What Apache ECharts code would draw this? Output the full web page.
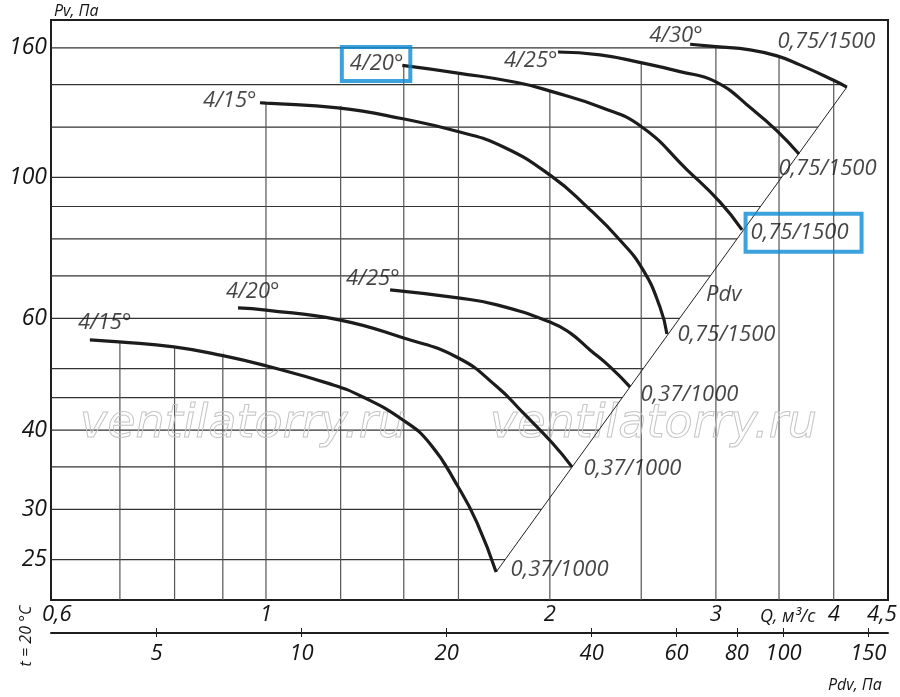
<!DOCTYPE html>
<html>
<head>
<meta charset="utf-8">
<script src="https://cdn.jsdelivr.net/npm/echarts@6/dist/echarts.min.js"></script>
<style>html,body{margin:0;padding:0;background:#fff}#c{width:900px;height:697px}</style>
</head>
<body>
<div id="c"></div>
<script>
// ---- axis ticks / grid values ----
const qLabelTicks = [0.6, 1, 2, 3, 4, 4.5];
const qGridLines = [0.7, 0.8, 0.9, 1, 1.2, 1.4, 1.6, 2, 2.5, 3, 3.5, 4];
const pvLabelTicks = [25, 30, 40, 60, 100, 160];
const pvGridLines = [25, 30, 35, 40, 45, 50, 60, 70, 80, 90, 100, 120, 140, 160];
const pdvTicks = [5, 10, 20, 40, 60, 80, 100, 150];
const qRange = [0.5916, 4.567];
const pvRange = [21.6, 177];
const pdvRange = [3.02, 164.8];

// ---- curves: [Q m3/s, Pv Pa] ----
const up15 = [[0.9855,131.1],[1.0,130.9],[1.192,128.7],[1.397,123.7],[1.598,118.1],[1.784,111.8],[2.011,100.3],[2.190,89.9],[2.373,79.7],[2.511,71.5],[2.617,62.5],[2.662,56.7]];
const up20 = [[1.395,150.1],[1.598,146.0],[1.846,141.1],[2.011,136.5],[2.261,129.1],[2.504,120.1],[2.796,102.8],[3.029,91.5],[3.198,82.7]];
const up25 = [[2.040,157.6],[2.261,156.0],[2.504,151.5],[2.748,146.8],[3.0,141.4],[3.284,127.8],[3.483,118.4],[3.675,108.9]];
const up30 = [[2.817,162.1],[3.0,160.7],[3.261,158.8],[3.483,155.4],[3.684,150.4],[3.994,142.4],[4.131,138.8]];
const low15 = [[0.6505,55.5],[0.6985,55.1],[0.7988,54.1],[0.9003,52.4],[1.0,50.5],[1.169,47.3],[1.267,45.1],[1.397,41.5],[1.492,38.1],[1.598,32.6],[1.674,28.6],[1.754,23.9]];
const low20 = [[0.934,62.3],[1.0,61.8],[1.192,59.7],[1.397,55.9],[1.598,52.0],[1.758,46.8],[1.873,42.6],[2.011,38.2],[2.111,35.0]];
const low25 = [[1.354,66.5],[1.598,64.6],[1.758,63.0],[2.011,59.0],[2.101,56.9],[2.206,53.5],[2.317,50.3],[2.432,46.8]];
const pdvLine = [[1.754,23.9],[4.131,138.8]];

const curves = [up15, up20, up25, up30, low15, low20, low25];
const curveNames = ['4/15°', '4/20°', '4/25°', '4/30°', '4/15°', '4/20°', '4/25°'];
const motorNames = ['0,75/1500', '0,75/1500', '0,75/1500', '0,75/1500', '0,37/1000', '0,37/1000', '0,37/1000'];
const pdvName = 'Pdv';
const yName = 'Pv, Па', xName = 'Q, м³/с', pdvAxisName = 'Pdv, Па', tempNote = 't = 20 °C', watermark = 'ventilatorry.ru';

// ---- layout (label offsets) ----
const startOffsets = [[-3,-2],[8.5,-1.5],[0,9],[13,-9],[42,-17],[42,-16],[10,-11]];
const endOffsets = [[10,1],[3,3],[-21,15],[-70,-45],[14,-2],[11,2],[10,8]];
const boxedStart = [1], boxedEnd = [1];

const L = v => Math.log10(v);
const toLog = pts => pts.map(p => [L(p[0]), L(p[1])]);
const FONT = 'Open Sans';
const txt = {color:'#151515', fontFamily:FONT, fontStyle:'italic'};
const fmtNum = v => String(Math.round(Math.pow(10, v) * 100) / 100).replace('.', ',');
const boxStyle = {borderColor:'#0a8bd6', borderWidth:4, lineHeight:24};

// clip polygons
const hClip = [[qRange[0], pvRange[0]], [qRange[0], pvRange[1]], [up30[0][0], pvRange[1]]]
  .concat(up30, pdvLine.slice().reverse(), [[pdvLine[0][0], pvRange[0]]]);
const envelope = [low15, up15, up20, up25, up30];
const vClip = [[low15[0][0], pvRange[0]]];
envelope.forEach((c, i) => {
  const nxt = envelope[i + 1];
  c.forEach(pt => { if (!nxt || pt[0] < nxt[0][0]) vClip.push(pt); });
});
vClip.push([up30[up30.length - 1][0], pvRange[0]]);

function gridRender(lines, vertical, clip, color) {
  return function (params, api) {
    const children = lines.map(v => {
      const a = vertical ? api.coord([L(v), L(pvRange[0])]) : api.coord([L(qRange[0]), L(v)]);
      const b = vertical ? api.coord([L(v), L(pvRange[1])]) : api.coord([L(qRange[1]), L(v)]);
      return {type:'line', shape:{x1:a[0], y1:a[1], x2:b[0], y2:b[1]}, style:{stroke:color, lineWidth:1.2}};
    });
    const pts = clip.map(p => api.coord([L(p[0]), L(p[1])]));
    return {type:'group', children, clipPath:{type:'polygon', shape:{points:pts}}};
  };
}

const series = [
  {type:'custom', name:'hgrid', renderItem:gridRender(pvGridLines, false, hClip, '#333'), data:[[0, 0]], z:1, silent:true, clip:false},
  {type:'custom', name:'vgrid', renderItem:gridRender(qGridLines, true, vClip, '#555'), data:[[0, 0]], z:1, silent:true, clip:false},
  {type:'line', name:pdvName, data:toLog(pdvLine), symbol:'none', lineStyle:{color:'#222', width:1}, z:3, silent:true}
];
curves.forEach((c, i) => {
  series.push({type:'line', name:curveNames[i] + ' ' + motorNames[i], data:toLog(c), smooth:0.5, symbol:'none',
    lineStyle:{color:'#1c1c1c', width:3.2, cap:'butt'}, z:4, silent:true});
});
const labelData = [];
curves.forEach((c, i) => {
  const s = toLog([c[0]])[0], e = toLog([c[c.length - 1]])[0];
  labelData.push({value:s, label:Object.assign({show:true, position:'left', distance:0, formatter:curveNames[i], offset:startOffsets[i], fontSize:22}, txt,
    boxedStart.includes(i) ? Object.assign({padding:[5,7,5,8]}, boxStyle) : {})});
  labelData.push({value:e, label:Object.assign({show:true, position:'right', distance:0, formatter:motorNames[i], offset:endOffsets[i], fontSize:22}, txt,
    boxedEnd.includes(i) ? Object.assign({padding:[7,13,7,5]}, boxStyle) : {})});
});
const pl = toLog(pdvLine);
labelData.push({value:[(pl[0][0] + pl[1][0]) / 2, (pl[0][1] + pl[1][1]) / 2],
  label:Object.assign({show:true, position:'right', distance:0, formatter:pdvName, offset:[34,-35], fontSize:22}, txt)});
series.push({type:'scatter', name:'labels', data:labelData, symbolSize:1, itemStyle:{color:'rgba(0,0,0,0)'}, z:6, silent:true});

const chart = echarts.init(document.getElementById('c'));
chart.setOption({
  animation:false,
  backgroundColor:'#fff',
  grid:{left:51, right:12, top:20, bottom:97, show:true, borderColor:'#1e1e1e', borderWidth:2},
  xAxis:[
    {type:'value', min:L(qRange[0]), max:L(qRange[1]), position:'bottom',
      axisLine:{show:false}, axisTick:{show:false}, splitLine:{show:false},
      axisLabel:Object.assign({customValues:qLabelTicks.map(L), formatter:fmtNum, margin:4, fontSize:22}, txt),
      name:xName, nameLocation:'end', nameGap:-128,
      nameTextStyle:Object.assign({fontSize:18, align:'left', verticalAlign:'top', padding:[8,0,0,0]}, txt)},
    {type:'value', min:L(pdvRange[0]), max:L(pdvRange[1]), position:'bottom', offset:33,
      axisLine:{show:true, lineStyle:{color:'#1e1e1e', width:2}},
      axisTick:{show:true, customValues:pdvTicks.map(L), length:4, lineStyle:{color:'#1e1e1e', width:1}},
      axisLabel:Object.assign({customValues:pdvTicks.map(L), formatter:fmtNum, margin:10, fontSize:22}, txt),
      splitLine:{show:false},
      name:pdvAxisName, nameLocation:'end', nameGap:-60,
      nameTextStyle:Object.assign({fontSize:16, align:'left', verticalAlign:'top', padding:[44,0,0,0]}, txt)},
    {type:'value', min:L(pdvRange[0]), max:L(pdvRange[1]), position:'bottom', offset:33,
      axisLine:{show:false}, axisLabel:{show:false}, splitLine:{show:false},
      axisTick:{show:true, inside:true, customValues:pdvTicks.map(L), length:5, lineStyle:{color:'#1e1e1e', width:1}}}
  ],
  yAxis:[
    {type:'value', min:L(pvRange[0]), max:L(pvRange[1]),
      axisLine:{show:false}, axisTick:{show:false}, splitLine:{show:false},
      axisLabel:Object.assign({customValues:pvLabelTicks.map(L), formatter:fmtNum, margin:4, fontSize:23}, txt)}
  ],
  graphic:[
    {type:'text', x:54, y:11, z:10,
      style:{text:yName, font:'italic 16px Open Sans', fill:'#151515', textAlign:'left', textVerticalAlign:'middle'}},
    {type:'text', x:26, y:636, rotation:Math.PI / 2, z:10,
      style:{text:tempNote, font:'italic 16px Open Sans', fill:'#151515', textAlign:'center', textVerticalAlign:'middle'}},
    {type:'text', x:80, y:425, z:2, silent:true,
      style:{text:watermark, font:'italic 46px DejaVu Sans', fill:'none', stroke:'#c4c4c4', lineWidth:1, textAlign:'left', textVerticalAlign:'middle'}},
    {type:'text', x:490, y:425, z:2, silent:true,
      style:{text:watermark, font:'italic 46px DejaVu Sans', fill:'none', stroke:'#c4c4c4', lineWidth:1, textAlign:'left', textVerticalAlign:'middle'}}
  ],
  series:series
});
</script>
</body>
</html>
